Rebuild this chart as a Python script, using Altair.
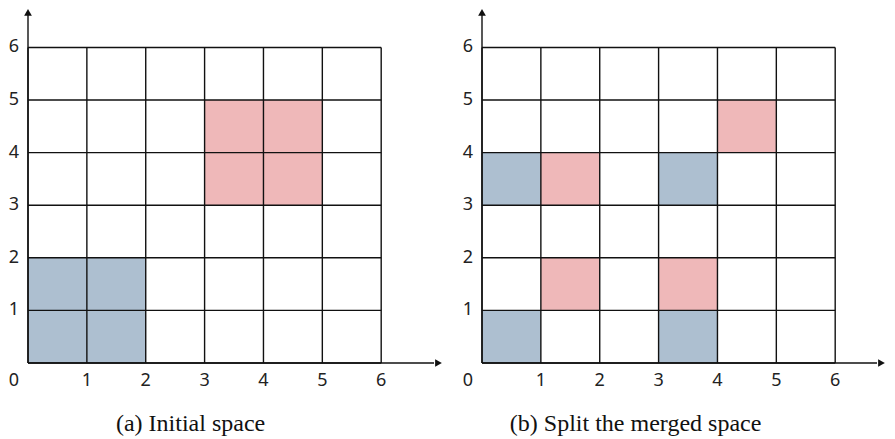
import altair as alt
import pandas as pd

# ---- data ----
grid_values = [0, 1, 2, 3, 4, 5, 6]
tick_values = [1, 2, 3, 4, 5, 6]

a_cell_x = [0, 1, 0, 1, 3, 4, 3, 4]
a_cell_y = [0, 0, 1, 1, 3, 3, 4, 4]
a_cell_kind = ["blue", "blue", "blue", "blue", "pink", "pink", "pink", "pink"]

b_cell_x = [0, 3, 0, 3, 1, 3, 1, 4]
b_cell_y = [0, 0, 3, 3, 1, 1, 3, 4]
b_cell_kind = ["blue", "blue", "blue", "blue", "pink", "pink", "pink", "pink"]

titles = ["(a) Initial space", "(b) Split the merged space"]
blue_colors = ["#adbfd0", "#aab6c9"]
pink_color = "#efb8b9"

# ---- layout constants ----
PX_PER_UNIT = 415 / 7.05
Y_MAX = 6.75
H = 355
LINE = "#111111"
ys = alt.Scale(domain=[0, Y_MAX], nice=False, zero=False)


def panel(cx, cy, kind, title, blue, width, title_dx):
    x_max = width / PX_PER_UNIT
    xs = alt.Scale(domain=[0, x_max], nice=False, zero=False)
    tip = 4.5 / PX_PER_UNIT

    cells = pd.DataFrame({"x": cx, "y": cy, "kind": kind})
    cells["x2"] = cells["x"] + 1
    cells["y2"] = cells["y"] + 1
    rects = alt.Chart(cells).mark_rect(strokeWidth=0).encode(
        x=alt.X("x:Q", scale=xs, axis=None),
        x2="x2:Q",
        y=alt.Y("y:Q", scale=ys, axis=None),
        y2="y2:Q",
        color=alt.Color("kind:N", scale=alt.Scale(domain=["blue", "pink"], range=[blue, pink_color]), legend=None),
    )

    g = pd.DataFrame({"v": grid_values, "lo": 0, "hi": 6})
    vlines = alt.Chart(g).mark_rule(color=LINE, strokeWidth=1.4).encode(
        x=alt.X("v:Q", scale=xs), y=alt.Y("lo:Q", scale=ys), y2="hi:Q")
    hlines = alt.Chart(g).mark_rule(color=LINE, strokeWidth=1.4).encode(
        y=alt.Y("v:Q", scale=ys), x=alt.X("lo:Q", scale=xs), x2="hi:Q")

    ax = pd.DataFrame({"x": [0], "y": [0], "xe": [x_max - 2 * tip], "ye": [Y_MAX - 0.1]})
    xaxis = alt.Chart(ax).mark_rule(color=LINE, strokeWidth=1.4).encode(
        x=alt.X("x:Q", scale=xs), x2="xe:Q", y=alt.Y("y:Q", scale=ys))
    yaxis = alt.Chart(ax).mark_rule(color=LINE, strokeWidth=1.4).encode(
        x=alt.X("x:Q", scale=xs), y=alt.Y("y:Q", scale=ys), y2="ye:Q")

    arr = pd.DataFrame({"ax": [x_max - tip], "ay": [0], "bx": [0], "by": [Y_MAX - 0.085]})
    xarrow = alt.Chart(arr).mark_point(shape="triangle-right", filled=True, size=60, color=LINE, opacity=1).encode(
        x=alt.X("ax:Q", scale=xs), y=alt.Y("ay:Q", scale=ys))
    yarrow = alt.Chart(arr).mark_point(shape="triangle-up", filled=True, size=60, color=LINE, opacity=1).encode(
        x=alt.X("bx:Q", scale=xs), y=alt.Y("by:Q", scale=ys))

    t = pd.DataFrame({"v": tick_values, "z": 0, "lab": [str(v) for v in tick_values]})
    xlab = alt.Chart(t).mark_text(font="Noto Sans", fontSize=18, dy=18, baseline="middle", color="#222222").encode(
        x=alt.X("v:Q", scale=xs), y=alt.Y("z:Q", scale=ys), text="lab:N")
    ylab = alt.Chart(t).mark_text(font="Noto Sans", fontSize=18, dx=-14, baseline="middle", color="#222222").encode(
        y=alt.Y("v:Q", scale=ys), x=alt.X("z:Q", scale=xs), text="lab:N")
    o = pd.DataFrame({"x": [0], "y": [0], "lab": ["0"]})
    olab = alt.Chart(o).mark_text(font="Noto Sans", fontSize=18, dx=-14, dy=18, baseline="middle", color="#222222").encode(
        x=alt.X("x:Q", scale=xs), y=alt.Y("y:Q", scale=ys), text="lab:N")

    tt = pd.DataFrame({"x": [3], "y": [0], "lab": [title]})
    ttl = alt.Chart(tt).mark_text(font="Liberation Serif", fontSize=24, dx=title_dx, dy=68,
                                  baseline="alphabetic", color="#111111").encode(
        x=alt.X("x:Q", scale=xs), y=alt.Y("y:Q", scale=ys), text="lab:N")

    return alt.layer(rects, vlines, hlines, xaxis, yaxis, xarrow, yarrow, xlab, ylab, olab, ttl).properties(width=width, height=H)


left = panel(a_cell_x, a_cell_y, a_cell_kind, titles[0], blue_colors[0], 415, -14)
right = panel(b_cell_x, b_cell_y, b_cell_kind, titles[1], blue_colors[1], 404, -23)

chart = alt.hconcat(left, right, spacing=39, bounds="flush").properties(
    padding={"left": 0, "top": 0, "right": 0, "bottom": 0}
).configure(background="white", view=alt.ViewConfig(strokeWidth=0, stroke="transparent"))

chart.save("out.html", embed_options={"renderer": "svg", "actions": False})
